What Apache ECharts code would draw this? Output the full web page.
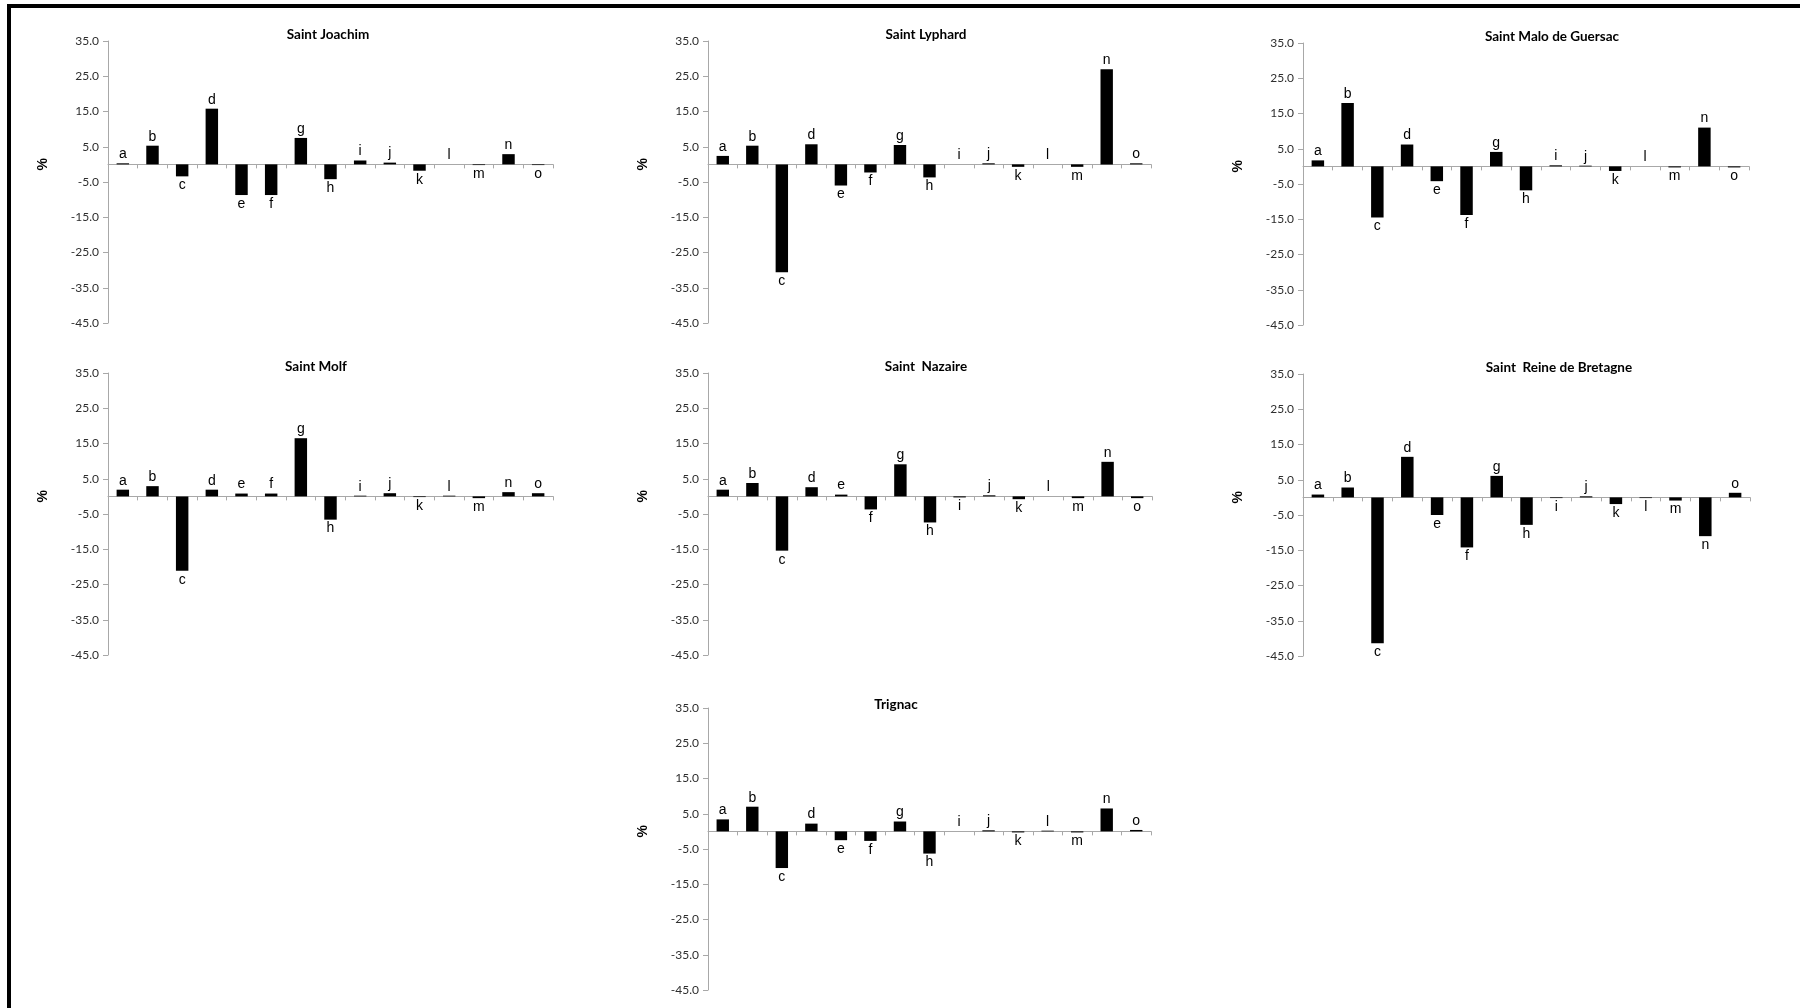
<!DOCTYPE html>
<html>
<head>
<meta charset="utf-8">
<script src="https://cdn.jsdelivr.net/npm/echarts@6/dist/echarts.min.js"></script>
<style>
html,body{margin:0;padding:0;background:#fff;}
#c{width:1800px;height:1008px;}
</style>
</head>
<body>
<div id="c"></div>
<script>
// ---------- DATA ----------
const categories = ['a','b','c','d','e','f','g','h','i','j','k','l','m','n','o'];
const panelTitles = ['Saint Joachim','Saint Lyphard','Saint Malo de Guersac','Saint Molf','Saint  Nazaire','Saint  Reine de Bretagne','Trignac'];
const saintJoachim      = [0.3, 5.3, -3.4, 15.8, -8.7, -8.7, 7.5, -4.2, 1.1, 0.5, -1.8, 0.0, -0.2, 2.9, -0.2];
const saintLyphard      = [2.4, 5.3, -30.6, 5.7, -6.0, -2.3, 5.5, -3.7, 0.0, 0.3, -0.7, 0.0, -0.7, 27.0, 0.3];
const saintMaloGuersac  = [1.7, 18.0, -14.5, 6.2, -4.2, -13.8, 4.1, -6.8, 0.3, 0.2, -1.3, 0.0, -0.3, 11.0, -0.3];
const saintMolf         = [1.9, 2.9, -21.1, 1.9, 0.8, 0.8, 16.5, -6.6, 0.2, 0.9, -0.2, 0.2, -0.5, 1.2, 0.9];
const saintNazaire      = [1.9, 3.8, -15.4, 2.6, 0.5, -3.7, 9.1, -7.4, -0.3, 0.3, -0.8, 0.0, -0.5, 9.8, -0.5];
const saintReineBretagne= [0.8, 2.8, -41.4, 11.5, -5.0, -14.2, 6.1, -7.8, -0.2, 0.3, -1.9, -0.2, -0.9, -11.0, 1.3];
const trignac           = [3.4, 7.0, -10.4, 2.2, -2.5, -2.7, 2.8, -6.3, 0.0, 0.3, -0.3, 0.2, -0.3, 6.5, 0.4];
const yMin = -45.0, yMax = 35.0, yStep = 10.0;
const yAxisTitle = '%';

const seriesValues = [saintJoachim, saintLyphard, saintMaloGuersac, saintMolf, saintNazaire, saintReineBretagne, trignac];

// ---------- LAYOUT (pixels) ----------
const layout = [
  {left:108,  top:41,  width:445, height:282, tx:328,  ty:35},
  {left:708,  top:41,  width:443, height:282, tx:926,  ty:35},
  {left:1303, top:43,  width:446, height:282, tx:1552, ty:37},
  {left:108,  top:373, width:445, height:282, tx:316,  ty:367},
  {left:708,  top:373, width:444, height:282, tx:926,  ty:367},
  {left:1303, top:374, width:447, height:282, tx:1559, ty:368},
  {left:708,  top:708, width:443, height:282, tx:896,  ty:705}
];

const axisColor = '#a8a8a8';
const grids = [], xAxes = [], yAxes = [], series = [], graphics = [];

layout.forEach((L, i) => {
  grids.push({left:L.left, top:L.top, width:L.width, height:L.height, containLabel:false});
  xAxes.push({
    type:'category', gridIndex:i, data:categories, boundaryGap:true,
    axisLine:{show:true, onZero:true, lineStyle:{color:axisColor, width:1}},
    axisTick:{show:true, length:4, lineStyle:{color:axisColor}},
    axisLabel:{show:false}, splitLine:{show:false}
  });
  yAxes.push({
    type:'value', gridIndex:i, min:yMin, max:yMax, interval:yStep,
    axisLine:{show:true, lineStyle:{color:axisColor, width:1}},
    axisTick:{show:true, length:5, lineStyle:{color:axisColor}},
    axisLabel:{show:true, formatter:v => v.toFixed(1), color:'#2e2e2e', fontSize:12, fontFamily:'Lato', margin:9},
    splitLine:{show:false}
  });
  series.push({
    type:'bar', xAxisIndex:i, yAxisIndex:i, barWidth:'42%',
    itemStyle:{color:'#000'},
    label:{show:true, formatter:'{b}', color:'#000', fontSize:14, fontFamily:'Liberation Sans', distance:2},
    data: seriesValues[i].map(v => ({value:v, label:{position: v < 0 ? 'bottom' : 'top'}}))
  });
  // panel title
  graphics.push({
    type:'text', x:L.tx, y:L.ty,
    style:{text:panelTitles[i], fill:'#000', font:'bold 13.5px Lato', textAlign:'center', textVerticalAlign:'middle'}
  });
  // y-axis title "%"
  const zeroY = L.top + L.height * (yMax - 0) / (yMax - yMin);
  graphics.push({
    type:'text', x:L.left - 65, y:zeroY, rotation:Math.PI/2,
    style:{text:yAxisTitle, fill:'#000', font:'bold 14px Liberation Sans', textAlign:'center', textVerticalAlign:'middle'}
  });
});

// figure frame (top and left black lines)
graphics.push({type:'rect', shape:{x:7, y:4, width:1793, height:4}, style:{fill:'#000'}});
graphics.push({type:'rect', shape:{x:7, y:4, width:4, height:1004}, style:{fill:'#000'}});

const chart = echarts.init(document.getElementById('c'), null, {renderer:'canvas'});
chart.setOption({
  backgroundColor:'#fff',
  animation:false,
  grid:grids, xAxis:xAxes, yAxis:yAxes, series:series,
  graphic:graphics
});
</script>
</body>
</html>
